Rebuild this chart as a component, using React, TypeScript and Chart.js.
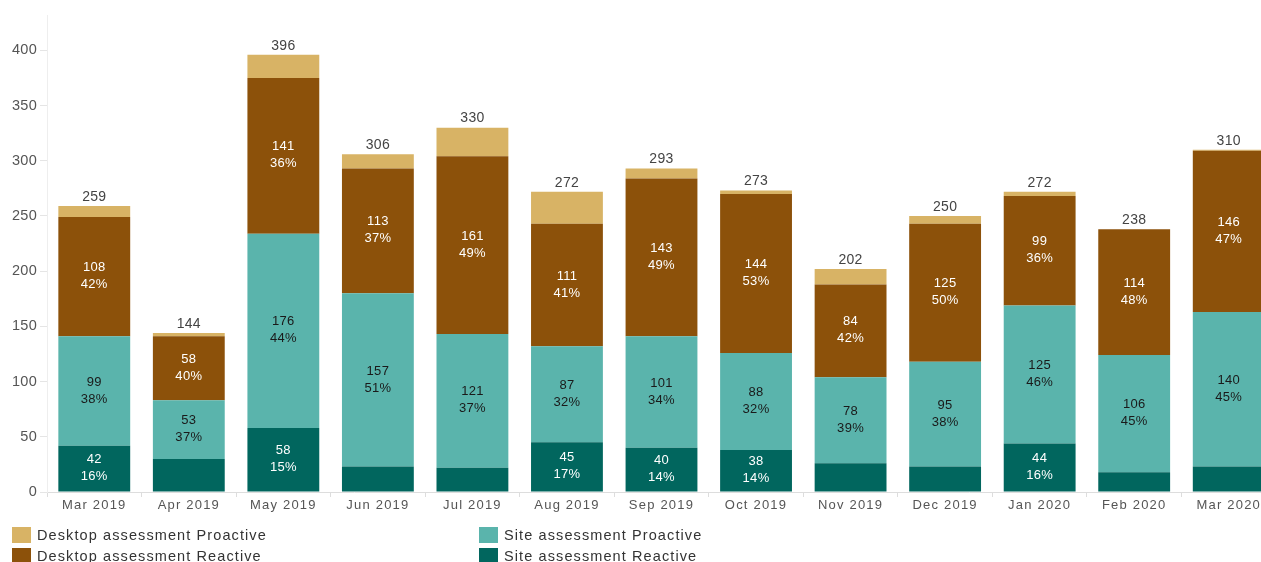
import React, { useEffect, useRef } from "react";
import { Chart, registerables } from "chart.js";

Chart.register(...registerables);

const categories = [
  "Mar 2019", "Apr 2019", "May 2019", "Jun 2019", "Jul 2019", "Aug 2019", "Sep 2019",
  "Oct 2019", "Nov 2019", "Dec 2019", "Jan 2020", "Feb 2020", "Mar 2020",
];
const siteReactive = [42, 30, 58, 23, 22, 45, 40, 38, 26, 23, 44, 18, 23];
const siteProactive = [99, 53, 176, 157, 121, 87, 101, 88, 78, 95, 125, 106, 140];
const desktopReactive = [108, 58, 141, 113, 161, 111, 143, 144, 84, 125, 99, 114, 146];
const desktopProactive = [10, 3, 21, 13, 26, 29, 9, 3, 14, 7, 4, 0, 1];
const yTicks = [0, 50, 100, 150, 200, 250, 300, 350, 400];

const seriesNames = [
  "Site assessment Reactive",
  "Site assessment Proactive",
  "Desktop assessment Reactive",
  "Desktop assessment Proactive",
];
const seriesColors = ["#01665e", "#5ab4ac", "#8c510a", "#d8b365"];
const labelColors = ["#ffffff", "#1a1a1a", "#ffffff", "#1a1a1a"];

const FONT = "'Liberation Sans', Arial, sans-serif";

function spaceLabels(s: any, spacing: string) {
  if (s.__spaced) return;
  s.__spaced = true;
  const orig = s.drawLabels;
  s.drawLabels = function (area: any) {
    this.ctx.save();
    this.ctx.letterSpacing = spacing;
    orig.call(this, area);
    this.ctx.restore();
  };
}

export default function App() {
  const ref = useRef<HTMLCanvasElement>(null);

  useEffect(() => {
    if (!ref.current) return;
    const seriesData = [siteReactive, siteProactive, desktopReactive, desktopProactive];
    const totals = categories.map((_, i) => seriesData.reduce((s, d) => s + d[i], 0));

    const labelPlugin = {
      id: "labels",
      afterDatasetsDraw(chart: any) {
        const ctx = chart.ctx;
        ctx.save();
        ctx.textAlign = "center";
        ctx.textBaseline = "middle";
        chart.data.datasets.forEach((ds: any, di: number) => {
          const meta = chart.getDatasetMeta(di);
          meta.data.forEach((bar: any, i: number) => {
            const v = ds.data[i];
            if (v < 35) return;
            const cy = (bar.y + bar.base) / 2;
            ctx.fillStyle = labelColors[di];
            ctx.font = `13px ${FONT}`;
            ctx.letterSpacing = "0.3px";
            ctx.fillText(String(v), bar.x, cy - 9);
            ctx.fillText(Math.round((v / totals[i]) * 100) + "%", bar.x, cy + 8);
          });
        });
        const top = chart.getDatasetMeta(chart.data.datasets.length - 1);
        const ys = chart.scales.y;
        top.data.forEach((bar: any, i: number) => {
          ctx.fillStyle = "#444";
          ctx.font = `14px ${FONT}`;
          ctx.letterSpacing = "0.3px";
          ctx.fillText(String(totals[i]), bar.x, ys.getPixelForValue(totals[i]) - 9);
        });
        ctx.restore();
      },
      afterDraw(chart: any) {
        const ctx = chart.ctx;
        ctx.save();
        const order = [3, 2, 1, 0];
        const colX = [12, 479];
        const rowY = [527, 548];
        order.forEach((di, k) => {
          const x = colX[Math.floor(k / 2)];
          const y = rowY[k % 2];
          ctx.fillStyle = seriesColors[di];
          ctx.fillRect(x, y, 19, 16);
          ctx.fillStyle = "#333";
          ctx.font = `14.5px ${FONT}`;
          ctx.letterSpacing = "1.1px";
          ctx.textAlign = "left";
          ctx.textBaseline = "middle";
          ctx.fillText(seriesNames[di], x + 25, y + 9);
        });
        ctx.restore();
      },
    };

    const chart = new Chart(ref.current, {
      type: "bar",
      data: {
        labels: categories,
        datasets: seriesData.map((d, i) => ({
          label: seriesNames[i],
          data: d,
          backgroundColor: seriesColors[i],
          borderWidth: 0,
          categoryPercentage: 1,
          barPercentage: 0.76,
        })),
      },
      options: {
        animation: false,
        responsive: true,
        maintainAspectRatio: false,
        layout: { padding: { top: 15, left: 0, right: 0, bottom: 0 } },
        plugins: { legend: { display: false }, tooltip: { enabled: false } },
        scales: {
          x: {
            stacked: true,
            grid: { drawOnChartArea: false, color: "#dddddd", tickLength: 5, offset: true },
            border: { color: "#dddddd", dash: [2, 2] },
            ticks: { color: "#555", font: { family: FONT, size: 13 }, padding: 1, maxRotation: 0 },
            afterFit: (s: any) => { s.height = 70; spaceLabels(s, "1.2px"); },
          },
          y: {
            stacked: true,
            min: 0,
            max: 432,
            grid: { drawOnChartArea: false, color: "#e5e5e5", tickLength: 7 },
            border: { color: "#eeeeee" },
            ticks: { color: "#555", font: { family: FONT, size: 14.5 }, padding: 3 },
            afterBuildTicks: (s: any) => { s.ticks = yTicks.map((v) => ({ value: v })); },
            afterFit: (s: any) => { s.width = 47; spaceLabels(s, "0.3px"); },
          },
        },
      },
      plugins: [labelPlugin],
    });
    return () => chart.destroy();
  }, []);

  return (
    <div style={{ position: "fixed", left: 0, top: 0, width: 1261, height: 562, overflow: "hidden", background: "#fff" }}>
      <div style={{ position: "relative", width: 1276, height: 562 }}>
        <canvas ref={ref} />
      </div>
    </div>
  );
}
